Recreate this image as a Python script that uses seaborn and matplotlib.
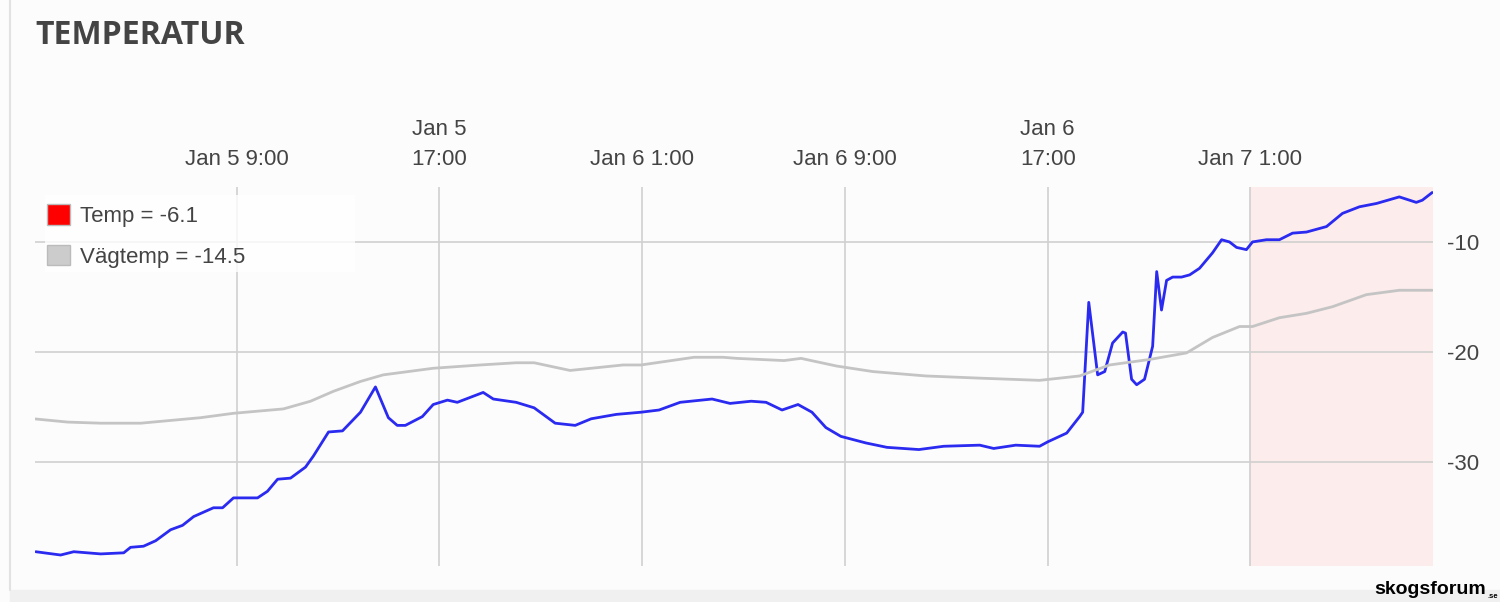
import pandas as pd
import matplotlib
matplotlib.use("Agg")
import matplotlib.pyplot as plt
from matplotlib.patches import Patch, Rectangle
import seaborn as sns

# hours since Jan 5 00:00, temperature
temp_hours = [1.08, 2.06, 2.58, 3.64, 4.55, 4.82, 5.33, 5.81, 6.40, 6.87, 7.31, 8.09, 8.45, 8.88,
              9.83, 10.22, 10.62, 11.13, 11.72, 12.03, 12.63, 13.18, 13.89, 14.48, 14.99, 15.34,
              15.66, 16.33, 16.76, 17.32, 17.71, 18.73, 19.13, 20.03, 20.74, 21.57, 22.36, 22.99,
              23.98, 24.96, 25.67, 26.50, 27.76, 28.47, 29.30, 29.89, 30.52, 31.15, 31.70, 32.25,
              32.84, 33.83, 34.66, 35.92, 36.90, 38.32, 38.87, 39.74, 40.68, 41.00, 41.75, 42.26,
              42.38, 42.62, 42.97, 43.25, 43.56, 43.96, 44.07, 44.31, 44.51, 44.82, 45.14, 45.30,
              45.49, 45.69, 45.93, 46.28, 46.60, 46.99, 47.50, 47.86, 48.17, 48.45, 48.84, 49.08,
              49.63, 50.14, 50.66, 51.21, 52.00, 52.63, 53.30, 53.97, 54.87, 55.54, 55.78, 56.17]
temp_values = [-38.2, -38.5, -38.2, -38.4, -38.3, -37.8, -37.7, -37.2, -36.2, -35.8, -35.0, -34.2,
               -34.2, -33.3, -33.3, -32.7, -31.6, -31.5, -30.5, -29.5, -27.3, -27.2, -25.5, -23.2,
               -26.0, -26.7, -26.7, -25.9, -24.8, -24.4, -24.6, -23.7, -24.3, -24.6, -25.1, -26.5,
               -26.7, -26.1, -25.7, -25.5, -25.3, -24.6, -24.3, -24.7, -24.5, -24.6, -25.3, -24.8,
               -25.5, -26.9, -27.7, -28.3, -28.7, -28.9, -28.6, -28.5, -28.8, -28.5, -28.6, -28.2,
               -27.4, -25.9, -25.5, -15.5, -22.1, -21.8, -19.2, -18.2, -18.3, -22.5, -23.0, -22.5,
               -19.5, -12.7, -16.2, -13.5, -13.2, -13.2, -13.0, -12.4, -11.0, -9.8, -10.0, -10.5,
               -10.7, -10.0, -9.8, -9.8, -9.2, -9.1, -8.6, -7.4, -6.8, -6.5, -5.9, -6.4, -6.2, -5.5]

road_hours = [1.0, 2.34, 3.64, 5.22, 7.58, 8.88, 10.85, 11.92, 12.82, 13.89, 14.79, 16.76, 18.62,
              20.03, 20.74, 22.16, 24.25, 24.96, 27.05, 28.19, 28.74, 30.60, 31.27, 32.68, 34.10,
              36.19, 38.32, 40.68, 42.26, 43.44, 45.02, 46.48, 47.50, 48.57, 49.08, 50.14, 51.21,
              52.23, 53.57, 54.87, 56.17]
road_values = [-26.1, -26.4, -26.5, -26.5, -26.0, -25.6, -25.2, -24.5, -23.6, -22.7, -22.1, -21.5,
               -21.2, -21.0, -21.0, -21.7, -21.2, -21.2, -20.5, -20.5, -20.6, -20.8, -20.6, -21.3,
               -21.8, -22.2, -22.4, -22.6, -22.2, -21.2, -20.7, -20.1, -18.7, -17.7, -17.7, -16.9,
               -16.5, -15.9, -14.8, -14.4, -14.4]

tick_hours = [9, 17, 25, 33, 41, 49]
tick_labels = ["Jan 5 9:00", "Jan 5\n17:00", "Jan 6 1:00", "Jan 6 9:00", "Jan 6\n17:00", "Jan 7 1:00"]
legend_labels = ["Temp = -6.1", "Vägtemp = -14.5"]

base = pd.Timestamp("2024-01-05 00:00")
to_time = lambda h: base + pd.to_timedelta(h, unit="h")

df = pd.concat([
    pd.DataFrame({"time": to_time(pd.Series(temp_hours)), "value": temp_values, "series": "Temp"}),
    pd.DataFrame({"time": to_time(pd.Series(road_hours)), "value": road_values, "series": "Vägtemp"}),
])

sns.set_style("white")
plt.rcParams["font.family"] = ["Liberation Sans", "DejaVu Sans"]
plt.rcParams["axes.unicode_minus"] = False

fig = plt.figure(figsize=(15, 6.02), dpi=100, facecolor="#fcfcfc")
ax = fig.add_axes([35 / 1500, 1 - 566 / 602, (1433 - 35) / 1500, (566 - 187) / 602])
ax.set_facecolor("#fcfcfc")

ax.axvspan(to_time(49), to_time(56.3), color="#fcecec", zorder=0)

sns.lineplot(data=df, x="time", y="value", hue="series",
             palette={"Temp": "#2a2af0", "Vägtemp": "#c4c4c4"},
             linewidth=2.0, legend=False, ax=ax, zorder=3)

ax.set_xlim(to_time(1.05), to_time(56.2))
ax.set_ylim(-39.5, -5)
ax.set_xticks([to_time(h) for h in tick_hours])
ax.set_xticklabels(tick_labels, linespacing=1.6)
ax.set_yticks([-30, -20, -10])
ax.xaxis.tick_top()
ax.yaxis.tick_right()
ax.tick_params(axis="x", length=0, pad=12, labelsize=16, labelcolor="#444444")
ax.tick_params(axis="y", length=0, pad=10, labelsize=16, labelcolor="#444444")
ax.grid(True, color="#d0d0d0", linewidth=1.2)
ax.set_axisbelow(True)
ax.set_xlabel("")
ax.set_ylabel("")
for s in ax.spines.values():
    s.set_visible(False)

# legend backdrop
fig.add_artist(Rectangle((45 / 1500, 1 - 272 / 602), 310 / 1500, 77 / 602,
                         transform=fig.transFigure, facecolor="white", alpha=0.8,
                         edgecolor="none", zorder=4))
handles = [Patch(facecolor="#ff0000", edgecolor="#bbbbbb"),
           Patch(facecolor="#cccccc", edgecolor="#bbbbbb")]
leg = fig.legend(handles, legend_labels, loc="upper left",
                 bbox_to_anchor=(47 / 1500, 1 - 204 / 602),
                 fontsize=16, handlelength=1.05, handleheight=1.05, handletextpad=0.45,
                 labelspacing=0.8, borderpad=0.0, borderaxespad=0.0, frameon=False)
for t in leg.get_texts():
    t.set_color("#444444")
leg.set_zorder(5)

fig.text(35 / 1500, 1 - 35 / 602, "TEMPERATUR", fontsize=23, fontweight="bold",
         family=["Open Sans", "DejaVu Sans"], color="#444444", va="center", ha="left")

# panel edges
fig.add_artist(plt.Line2D([10 / 1500, 10 / 1500], [12 / 602, 1], color="#e2e2e2", linewidth=1.5))
fig.add_artist(Rectangle((10 / 1500, 0), 1, 12 / 602, color="#f0f0f0", transform=fig.transFigure))
fig.text(1486 / 1500, 1 - 589 / 602, "skogsforum", fontsize=14, fontweight="bold",
         family=["Liberation Sans", "DejaVu Sans"], color="black", va="center", ha="right")
fig.text(1487 / 1500, 1 - 596 / 602, ".se", fontsize=5.5, fontweight="bold",
         color="black", va="center", ha="left")

fig.savefig("out.png", dpi=100, facecolor=fig.get_facecolor())
